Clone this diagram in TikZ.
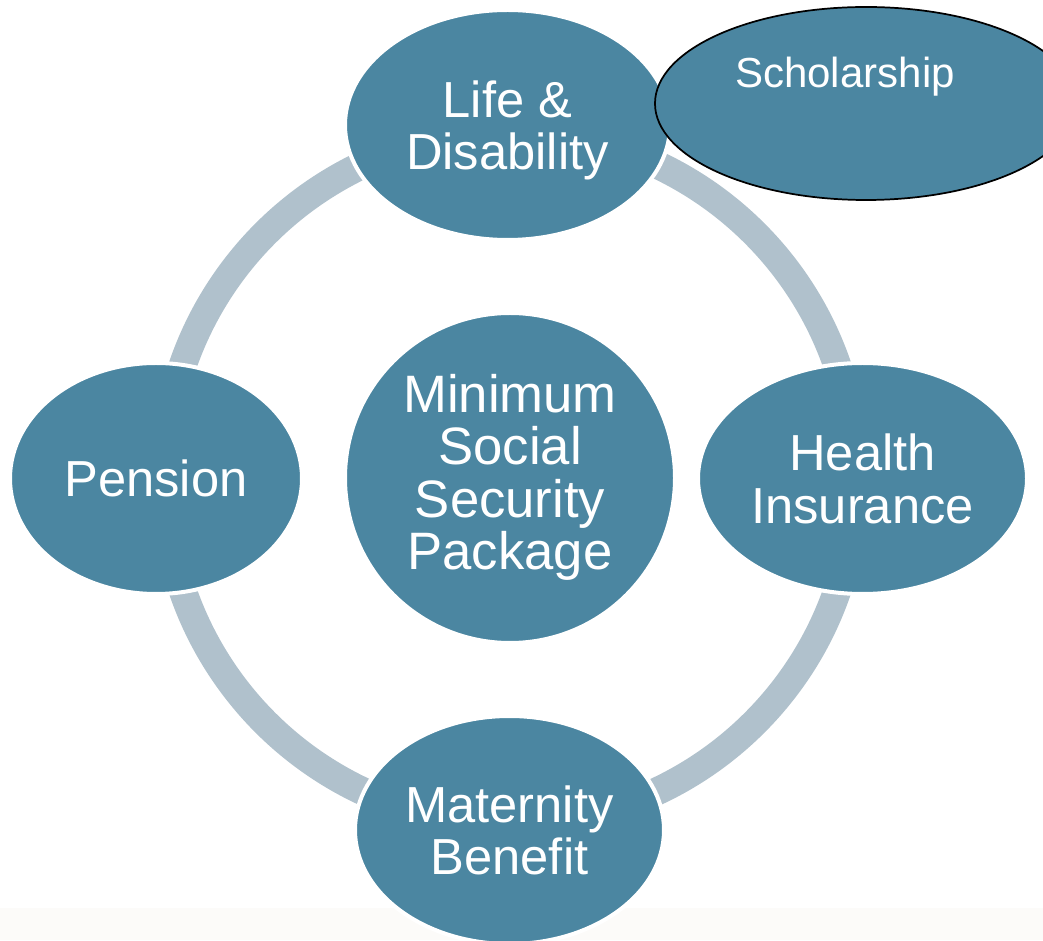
\documentclass[tikz,border=0pt]{standalone}
\usepackage{fontspec}
\setmainfont{Liberation Sans}
\usetikzlibrary{shapes.geometric}
\definecolor{petal}{HTML}{4B86A1}
\definecolor{ringgray}{HTML}{B0C1CC}
\definecolor{paper}{HTML}{FCFBF9}
\begin{document}
\begin{tikzpicture}[x=0.75pt,y=0.75pt,
  bubble/.style={ellipse,fill=petal,draw=white,line width=3pt,inner sep=0pt,
    text=white,align=center,text depth=0pt,
    font=\fontsize{38}{39.5}\selectfont},
  ringline/.style={draw=ringgray,line width=21pt}]
  \useasboundingbox (0,0) rectangle (1043,940);
  \clip (0,0) rectangle (1043,940);
  % faint strip along the lower edge
  \fill[paper] (0,0) rectangle (1043,32);
  % the ring linking the four outer ellipses
  \coordinate (hub) at (510,462);
  \draw[ringline] (hub) circle[radius=346];
  % centre and satellites
  \node[bubble,circle,minimum size=247.5pt,text depth=9pt,
    font=\fontsize{39.5}{39.25}\selectfont] (core) at (hub) {Minimum\\Social\\Security\\Package};
  \node[bubble,minimum width=243.75pt,minimum height=172.5pt] (life) at (507.5,815) {Life \&\\Disability};
  \node[bubble,minimum width=219pt,minimum height=173.25pt] (pension) at (156,461.5) {Pension};
  \node[bubble,minimum width=246.75pt,minimum height=173.25pt] (health) at (862.5,461.5) {Health\\Insurance};
  \node[bubble,minimum width=231.75pt,minimum height=171pt] (maternity) at (509.5,110) {Maternity\\Benefit};
  % added ellipse with black outline, text set near its top
  \node[ellipse,fill=petal,draw=black,line width=1.3pt,inner sep=0pt,
    minimum width=316.5pt,minimum height=144.75pt] (schol) at (866,836.5) {};
  \node[text=white,inner sep=0pt,anchor=base,font=\fontsize{31.5}{38}\selectfont]
    (scholtext) at (845,852) {Scholarship};
\end{tikzpicture}
\end{document}
